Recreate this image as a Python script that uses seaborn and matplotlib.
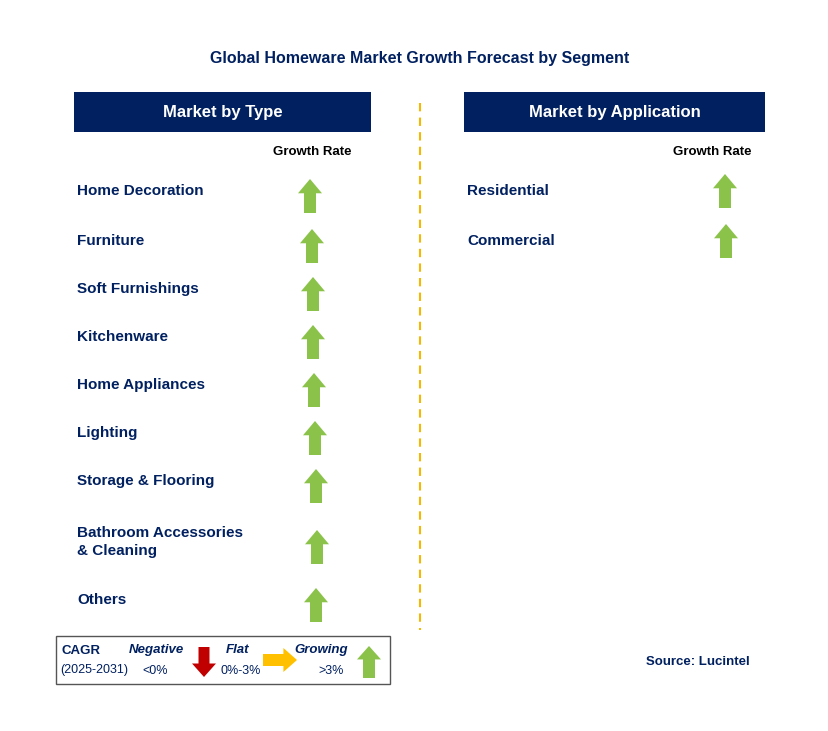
import matplotlib.pyplot as plt
import seaborn as sns
from matplotlib.patches import Polygon, Rectangle

sns.set_theme(style="white", font="Liberation Sans")

NAVY = "#002060"
GREEN = "#8BC34A"

type_labels = ["Home Decoration", "Furniture", "Soft Furnishings", "Kitchenware",
               "Home Appliances", "Lighting", "Storage & Flooring",
               "Bathroom Accessories\n& Cleaning", "Others"]
type_rows = [191, 241, 289, 337, 385, 433, 481, 542, 600]
type_arrow_x = [310, 312, 313, 313, 314, 315, 316, 317, 316]
type_growth = ["up"] * 9

app_labels = ["Residential", "Commercial"]
app_rows = [191, 241]
app_arrow_x = [725, 726]
app_growth = ["up"] * 2


def up_arrow(ax, cx, cy, color=GREEN, w=24, h=34, bw=12):
    top, bot = cy - h / 2, cy + h / 2
    head = top + h * 0.42
    pts = [(cx, top), (cx + w / 2, head), (cx + bw / 2, head), (cx + bw / 2, bot),
           (cx - bw / 2, bot), (cx - bw / 2, head), (cx - w / 2, head)]
    ax.add_patch(Polygon(pts, closed=True, color=color, lw=0))


def down_arrow(ax, cx, cy, color, w=24, h=34, bw=12):
    top, bot = cy - h / 2, cy + h / 2
    head = bot - h * 0.45
    pts = [(cx, bot), (cx + w / 2, head), (cx + bw / 2, head), (cx + bw / 2, top),
           (cx - bw / 2, top), (cx - bw / 2, head), (cx - w / 2, head)]
    ax.add_patch(Polygon(pts, closed=True, color=color, lw=0))


def right_arrow(ax, cx, cy, color, w=34, h=24, bh=12):
    left, right = cx - w / 2, cx + w / 2
    head = right - w * 0.4
    pts = [(right, cy), (head, cy - h / 2), (head, cy - bh / 2), (left, cy - bh / 2),
           (left, cy + bh / 2), (head, cy + bh / 2), (head, cy + h / 2)]
    ax.add_patch(Polygon(pts, closed=True, color=color, lw=0))


fig = plt.figure(figsize=(8.29, 7.31), dpi=100)
ax = fig.add_axes([0, 0, 1, 1])
ax.set_xlim(0, 829)
ax.set_ylim(731, 0)
ax.axis("off")

ax.text(420, 58, "Global Homeware Market Growth Forecast by Segment", ha="center",
        va="center", fontsize=11.5, fontweight="bold", color=NAVY)

for x0, x1, title in [(74, 371, "Market by Type"), (464, 765, "Market by Application")]:
    ax.add_patch(Rectangle((x0, 92), x1 - x0, 40, color=NAVY, lw=0))
    ax.text((x0 + x1) / 2, 112, title, ha="center", va="center", fontsize=12,
            fontweight="bold", color="white")

ax.text(312, 152, "Growth Rate", ha="center", va="center", fontsize=9.5, fontweight="bold", color="black")
ax.text(712, 152, "Growth Rate", ha="center", va="center", fontsize=9.5, fontweight="bold", color="black")

for lab, y, ax_x, g in zip(type_labels, type_rows, type_arrow_x, type_growth):
    ax.text(77, y, lab, ha="left", va="center", fontsize=11, fontweight="bold",
            color=NAVY, linespacing=1.4)
    if g == "up":
        up_arrow(ax, ax_x, y + 5)

for lab, y, ax_x, g in zip(app_labels, app_rows, app_arrow_x, app_growth):
    ax.text(467, y, lab, ha="left", va="center", fontsize=11, fontweight="bold", color=NAVY)
    if g == "up":
        up_arrow(ax, ax_x, y)

ax.plot([420, 420], [103, 630], ls=(0, (4, 3)), color="#F5B800", lw=1.5)

# legend box
ax.add_patch(Rectangle((56, 636), 334, 48, fill=False, ec="#555555", lw=1))
ax.text(62, 651, "CAGR", fontsize=9.5, fontweight="bold", color=NAVY, va="center")
ax.text(60, 670, "(2025-2031)", fontsize=9, color=NAVY, va="center")
ax.text(156, 650, "Negative", fontsize=9.5, fontweight="bold", fontstyle="italic", color=NAVY, va="center", ha="center")
ax.text(155, 671, "<0%", fontsize=9, color=NAVY, va="center", ha="center")
down_arrow(ax, 204, 662, "#C00000", w=24, h=30, bw=11)
ax.text(238, 650, "Flat", fontsize=9.5, fontweight="bold", fontstyle="italic", color=NAVY, va="center", ha="center")
ax.text(241, 671, "0%-3%", fontsize=9, color=NAVY, va="center", ha="center")
right_arrow(ax, 280, 660, "#FFC000", w=34, h=24, bh=12)
ax.text(321, 650, "Growing", fontsize=9.5, fontweight="bold", fontstyle="italic", color=NAVY, va="center", ha="center")
ax.text(331, 671, ">3%", fontsize=9, color=NAVY, va="center", ha="center")
up_arrow(ax, 369, 662, w=24, h=32, bw=12)

ax.text(750, 662, "Source: Lucintel", ha="right", va="center", fontsize=9.5,
        fontweight="bold", color=NAVY)

fig.savefig("out.png", dpi=100, facecolor="white")
